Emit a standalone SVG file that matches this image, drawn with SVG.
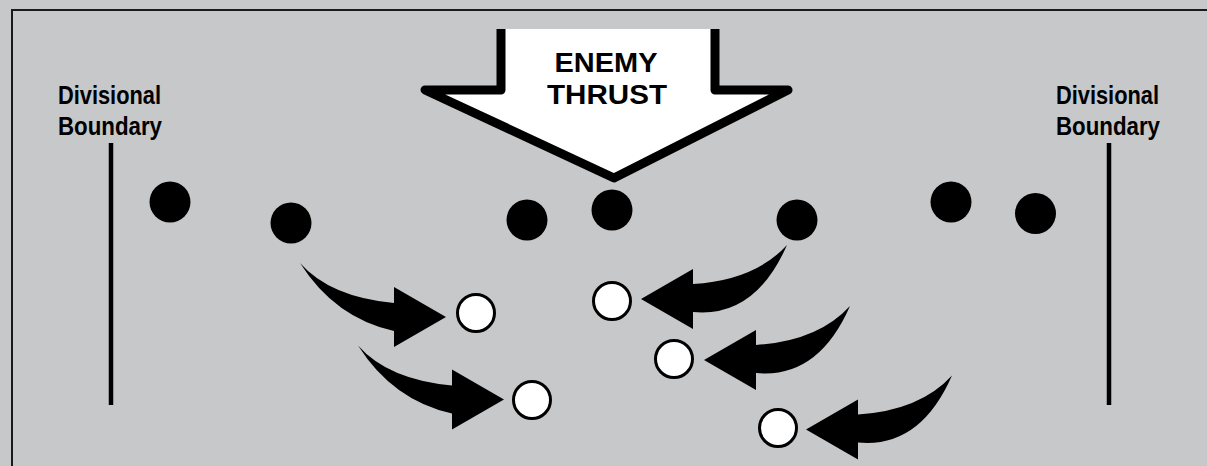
<svg xmlns="http://www.w3.org/2000/svg" width="1207" height="466" viewBox="0 0 1207 466">
  <style>
    .bg { fill: #c7c8ca; }
    .frame { fill: none; stroke: #1a1a1a; stroke-width: 2; }
    .label { font-family: "Liberation Sans", Arial, sans-serif; font-weight: bold; font-size: 26px; fill: #000; }
    .thrust-text { font-family: "Liberation Sans", Arial, sans-serif; font-weight: bold; font-size: 27px; fill: #000; text-anchor: middle; }
    .boundary { stroke: #000; stroke-width: 4.5; stroke-linecap: butt; }
    .unit { fill: #000; }
    .position { fill: #fff; stroke: #000; stroke-width: 3; }
    .move { fill: #000; }
  </style>
  <defs>
    <!-- curved movement arrow sweeping right -->
    <path id="arrow-right" d="M300,263 Q330,297 394,303 L394,287 L446,317 L394,347 L394,331 Q335,318 300,263 Z"/>
    <!-- curved movement arrow sweeping left -->
    <path id="arrow-left" d="M787,245 Q755,280 693,284 L693,269 L641,299 L693,329 L693,312 Q755,318 787,245 Z"/>
  </defs>

  <rect class="bg" x="0" y="0" width="1207" height="466"/>
  <path class="frame" d="M12,466 L12,10 L1207,10"/>

  <!-- boundary labels and lines -->
  <g id="boundary-left">
    <text class="label" x="58" y="104" textLength="103" lengthAdjust="spacingAndGlyphs">Divisional</text>
    <text class="label" x="58" y="135" textLength="104" lengthAdjust="spacingAndGlyphs">Boundary</text>
    <line class="boundary" x1="111" y1="143" x2="111" y2="405"/>
  </g>
  <g id="boundary-right">
    <text class="label" x="1056" y="104" textLength="103" lengthAdjust="spacingAndGlyphs">Divisional</text>
    <text class="label" x="1056" y="135" textLength="104" lengthAdjust="spacingAndGlyphs">Boundary</text>
    <line class="boundary" x1="1109" y1="143" x2="1109" y2="405"/>
  </g>

  <!-- enemy thrust arrow -->
  <g id="enemy-thrust">
    <path d="M501,29 L501,90 L425,90 L614,178 L788,90 L715,90 L715,29" fill="#fff" stroke="#000" stroke-width="9" stroke-linejoin="round"/>
    <text class="thrust-text" x="606" y="72" textLength="103" lengthAdjust="spacingAndGlyphs">ENEMY</text>
    <text class="thrust-text" x="607" y="104" textLength="120" lengthAdjust="spacingAndGlyphs">THRUST</text>
  </g>

  <!-- forward units -->
  <g id="unit-1"><circle class="unit" cx="170" cy="202" r="20.5"/></g>
  <g id="unit-2"><circle class="unit" cx="291" cy="223" r="20.5"/></g>
  <g id="unit-3"><circle class="unit" cx="527" cy="220" r="20.5"/></g>
  <g id="unit-4"><circle class="unit" cx="612" cy="210" r="20.5"/></g>
  <g id="unit-5"><circle class="unit" cx="797" cy="220" r="20.5"/></g>
  <g id="unit-6"><circle class="unit" cx="951" cy="202" r="20.5"/></g>
  <g id="unit-7"><circle class="unit" cx="1035.5" cy="213.5" r="20.5"/></g>

  <!-- fallback positions -->
  <g id="position-1"><circle class="position" cx="476" cy="313" r="18.5"/></g>
  <g id="position-2"><circle class="position" cx="532" cy="400" r="18.5"/></g>
  <g id="position-3"><circle class="position" cx="612" cy="301" r="18.5"/></g>
  <g id="position-4"><circle class="position" cx="674" cy="359" r="18.5"/></g>
  <g id="position-5"><circle class="position" cx="778" cy="428" r="18.5"/></g>

  <!-- movement arrows -->
  <g id="connectors">
    <use href="#arrow-right" class="move"/>
    <use href="#arrow-right" class="move" transform="translate(58,82.5)"/>
    <use href="#arrow-left" class="move"/>
    <use href="#arrow-left" class="move" transform="translate(63,61)"/>
    <use href="#arrow-left" class="move" transform="translate(165,130.5)"/>
  </g>
</svg>
